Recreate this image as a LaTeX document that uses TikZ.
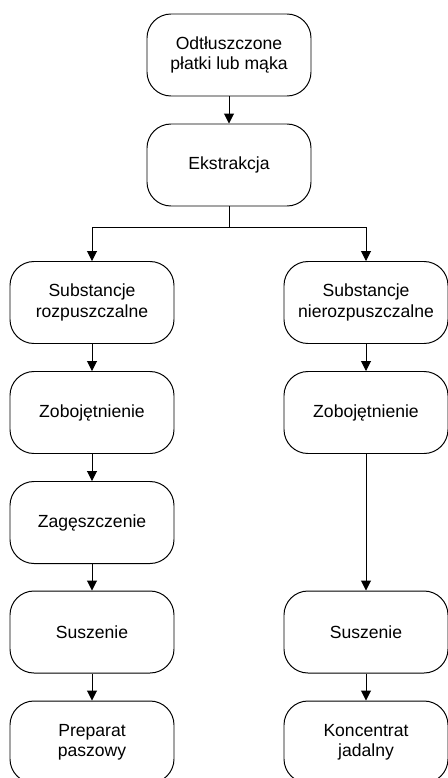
\documentclass[tikz,border=0pt]{standalone}
\usepackage{fontspec}
\setmainfont{Liberation Sans}
\usepackage{tikz}
\usetikzlibrary{shapes.geometric, arrows.meta, positioning, calc}

\tikzset{
    etap/.style={draw=black, line width=0.7pt, rounded corners=0.6cm,
        minimum width=4.1cm, minimum height=2.05cm, align=center,
        font=\fontsize{12.5}{14.5}\selectfont},
    strzalka/.style={draw=black, line width=0.7pt, -{Triangle[length=2.5mm, width=2.5mm]}}
}

\begin{document}
\begin{tikzpicture}

    \useasboundingbox (0,0) rectangle (11.2,-19.45);

    % Surowiec i ekstrakcja
    \node[etap] (surowiec) at (5.725,-1.375) {Odtłuszczone\\płatki lub mąka};
    \node[etap] (ekstr) at (5.725,-4.125) {Ekstrakcja};
    \coordinate (rozw) at (5.725,-5.675);

    % Lewa gałąź: substancje rozpuszczalne
    \node[etap] (rozp) at (2.3,-7.5625) {Substancje\\rozpuszczalne};
    \node[etap] (zobL) at (2.3,-10.3125) {Zobojętnienie};
    \node[etap] (zag) at (2.3,-13.0625) {Zagęszczenie};
    \node[etap] (suszL) at (2.3,-15.8) {Suszenie};
    \node[etap] (prep) at (2.3,-18.55) {Preparat\\paszowy};

    % Prawa gałąź: substancje nierozpuszczalne
    \node[etap] (nierozp) at (9.15,-7.5625) {Substancje\\nierozpuszczalne};
    \node[etap] (zobP) at (9.15,-10.3125) {Zobojętnienie};
    \node[etap] (suszP) at (9.15,-15.8) {Suszenie};
    \node[etap] (konc) at (9.15,-18.55) {Koncentrat\\jadalny};

    % Połączenia
    \draw[strzalka] (surowiec) -- (ekstr);
    \draw[line width=0.7pt] (ekstr) -- (rozw);
    \draw[strzalka] (rozw) -| (rozp);
    \draw[strzalka] (rozw) -| (nierozp);

    \draw[strzalka] (rozp) -- (zobL);
    \draw[strzalka] (zobL) -- (zag);
    \draw[strzalka] (zag) -- (suszL);
    \draw[strzalka] (suszL) -- (prep);

    \draw[strzalka] (nierozp) -- (zobP);
    \draw[strzalka] (zobP) -- (suszP);
    \draw[strzalka] (suszP) -- (konc);

\end{tikzpicture}
\end{document}
